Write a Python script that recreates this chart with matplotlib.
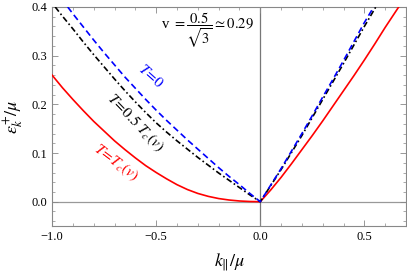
import matplotlib
matplotlib.use("Agg")
import matplotlib.pyplot as plt
from matplotlib.ticker import MultipleLocator

plt.rcParams['font.family'] = ['Liberation Serif', 'DejaVu Serif']
plt.rcParams['mathtext.fontset'] = 'stix'

# T = 0 (blue dashed)
k_t0 = [-0.925, -0.9, -0.85, -0.8, -0.75, -0.7, -0.65, -0.6, -0.55, -0.5, -0.45,
        -0.4, -0.35, -0.3, -0.25, -0.2, -0.15, -0.1, -0.05, 0.0,
        0.05, 0.1, 0.15, 0.2, 0.25, 0.3, 0.35, 0.4, 0.45, 0.5, 0.545]
e_t0 = [0.40, 0.386, 0.359, 0.332, 0.306, 0.281, 0.256, 0.233, 0.21, 0.188, 0.167,
        0.147, 0.127, 0.108, 0.089, 0.07, 0.052, 0.035, 0.017, 0.0,
        0.034, 0.068, 0.104, 0.14, 0.177, 0.215, 0.252, 0.29, 0.329, 0.368, 0.40]

# T = 0.5 Tc(v) (black dash-dot)
k_half = [-0.985, -0.95, -0.9, -0.85, -0.8, -0.75, -0.7, -0.65, -0.6, -0.55, -0.5,
          -0.45, -0.4, -0.35, -0.3, -0.25, -0.2, -0.15, -0.1, -0.05, 0.0,
          0.05, 0.1, 0.15, 0.2, 0.25, 0.3, 0.35, 0.4, 0.45, 0.5, 0.555]
e_half = [0.40, 0.381, 0.355, 0.328, 0.302, 0.277, 0.252, 0.228, 0.205, 0.183, 0.162,
          0.143, 0.125, 0.108, 0.091, 0.075, 0.059, 0.044, 0.029, 0.014, 0.0,
          0.033, 0.066, 0.101, 0.136, 0.173, 0.21, 0.247, 0.284, 0.322, 0.36, 0.40]

# T = Tc(v) (red solid)
k_tc = [-1.0, -0.95, -0.9, -0.85, -0.8, -0.75, -0.7, -0.65, -0.6, -0.55, -0.5,
        -0.45, -0.4, -0.35, -0.3, -0.25, -0.2, -0.15, -0.1, -0.05, 0.0,
        0.05, 0.1, 0.15, 0.2, 0.25, 0.3, 0.35, 0.4, 0.45, 0.5, 0.55, 0.6, 0.665]
e_tc = [0.26, 0.234, 0.21, 0.187, 0.165, 0.145, 0.125, 0.107, 0.09, 0.074, 0.06,
        0.047, 0.035, 0.025, 0.017, 0.011, 0.0065, 0.0035, 0.0015, 0.0004, 0.0,
        0.024, 0.05, 0.078, 0.107, 0.136, 0.166, 0.197, 0.228, 0.259, 0.291, 0.324, 0.358, 0.40]

xticks = [-1.0, -0.5, 0.0, 0.5]
xticklabels = ['\u22121.0', '\u22120.5', '0.0', '0.5']
yticks = [0.0, 0.1, 0.2, 0.3, 0.4]

fig = plt.figure(figsize=(4.07, 2.74), dpi=100)
ax = fig.add_axes([0.128, 0.175, 0.8695, 0.7995])

ax.axhline(0, color='#999999', lw=0.9, zorder=1)
ax.axvline(0, color='#777777', lw=0.9, zorder=1)

ax.plot(k_tc, e_tc, color='#ff0000', lw=1.2, zorder=3)
ax.plot(k_half, e_half, color='black', lw=1.2, dashes=[3.5, 1.6, 1, 1.6], zorder=3)
ax.plot(k_t0, e_t0, color='#0000ff', lw=1.2, dashes=[3.8, 2.2], zorder=4)

ax.set_xlim(-1.0, 0.70)
ax.set_ylim(-0.05, 0.40)
ax.set_xticks(xticks)
ax.set_xticklabels(xticklabels)
ax.set_yticks(yticks)
ax.set_yticklabels(['%.1f' % y for y in yticks])
ax.xaxis.set_minor_locator(MultipleLocator(0.1))
ax.yaxis.set_minor_locator(MultipleLocator(0.02))
ax.tick_params(which='both', direction='in', top=True, right=True,
               color='#888888', labelsize=9)
ax.tick_params(which='major', length=4, width=0.6)
ax.tick_params(which='minor', length=2, width=0.5)
for s in ax.spines.values():
    s.set_color('#888888')
    s.set_linewidth(0.8)

ax.set_xlabel(r'$k_{\|}/\mu$', fontsize=13, labelpad=6)
ax.set_ylabel(r'$\epsilon_k^{+}/\mu$', fontsize=13, labelpad=4)

ax.text(-0.255, 0.352, r'v $= \dfrac{0.5}{\sqrt{3}} \simeq 0.29$', fontsize=10.5,
        ha='center', va='center')
ax.text(-0.525, 0.258, r'$T\!=\!0$', color='#0000ff', fontsize=11, rotation=-42,
        ha='center', va='center')
ax.text(-0.6, 0.163, r'$T\!=\!0.5\ T_c(v)$', color='black', fontsize=11, rotation=-46,
        ha='center', va='center')
ax.text(-0.694, 0.08, r'$T\!=\!T_c(v)$', color='#ff0000', fontsize=11, rotation=-37,
        ha='center', va='center')

fig.savefig('out.png', dpi=100)
